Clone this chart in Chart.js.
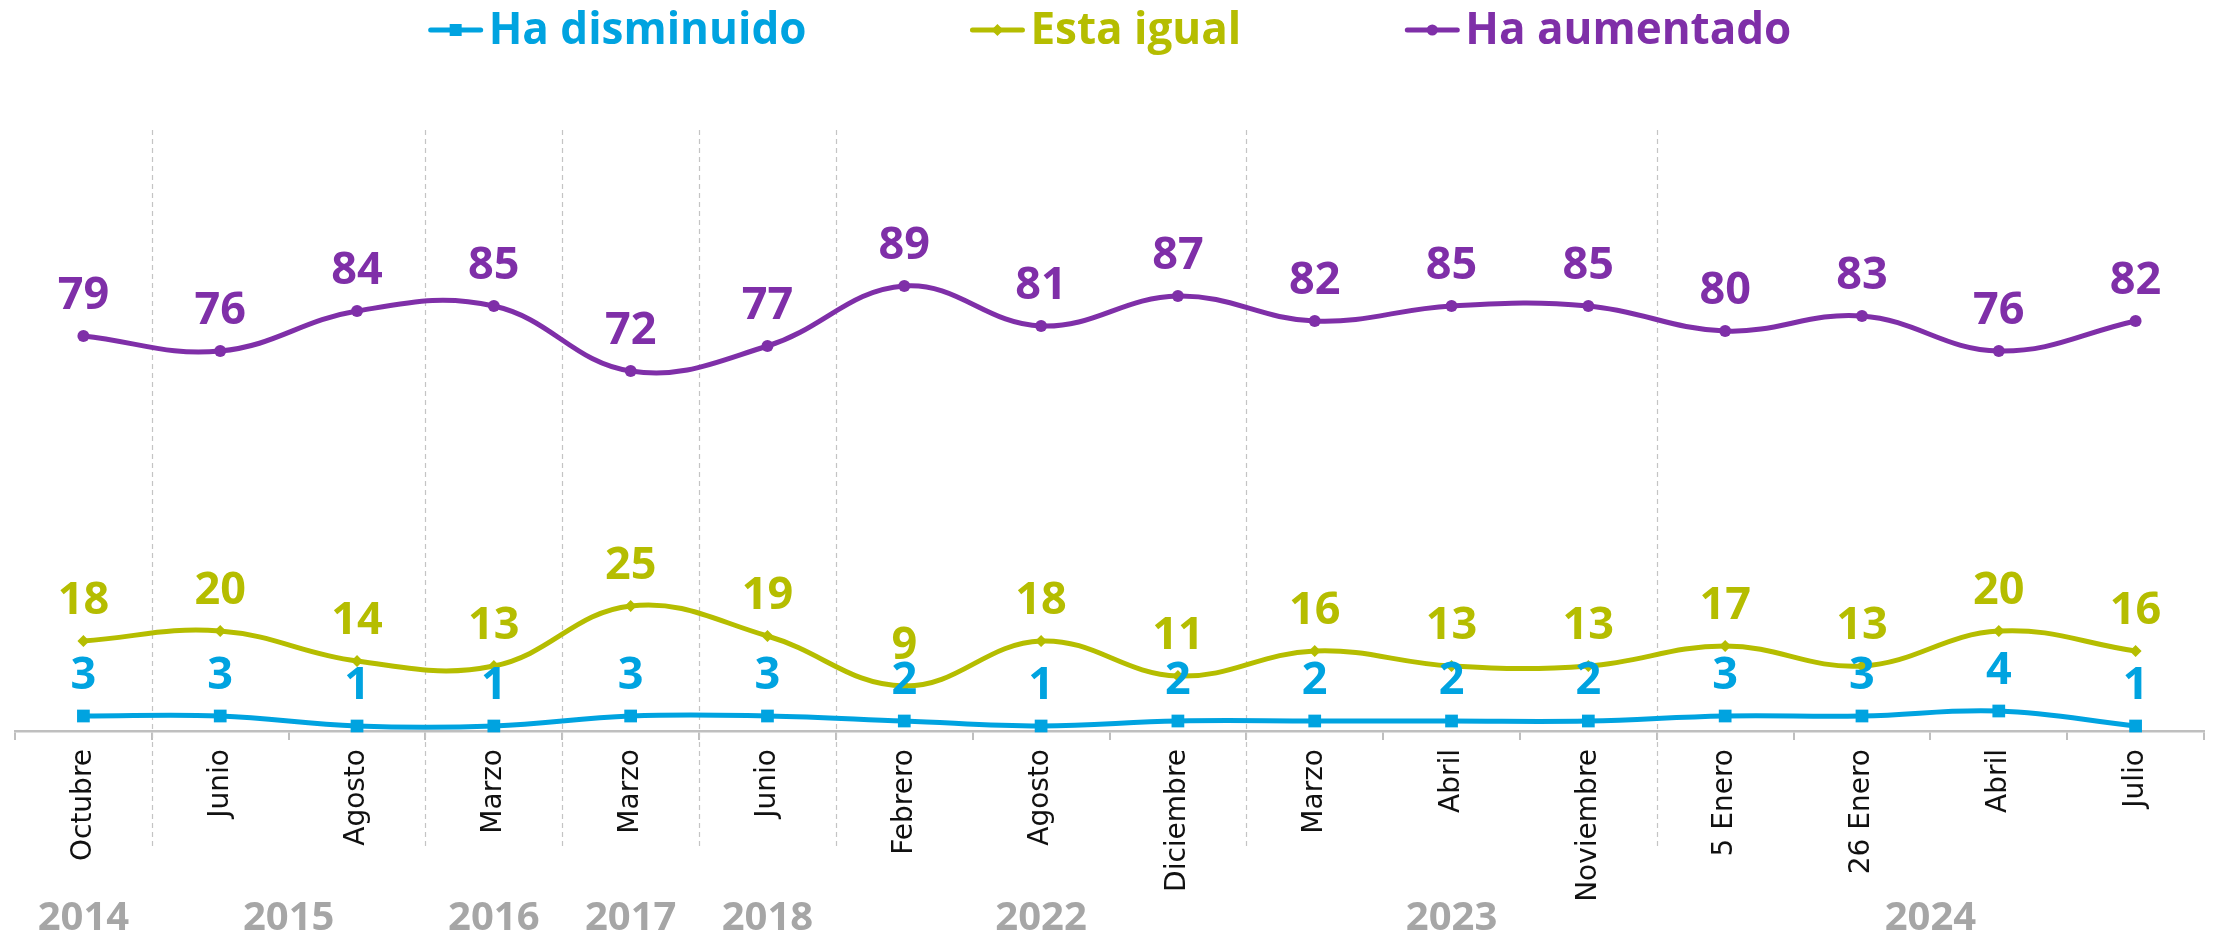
<!DOCTYPE html>
<html>
<head>
<meta charset="utf-8">
<script src="https://cdn.jsdelivr.net/npm/chart.js@4.4.0/dist/chart.umd.min.js"></script>
<style>
  html, body { margin: 0; padding: 0; background: #ffffff; }
  #wrap { width: 2213px; height: 936px; position: relative; }
</style>
</head>
<body>
<div id="wrap"><canvas id="c" width="2213" height="936"></canvas></div>
<script>
// ---- Data ----
const categories = ['Octubre','Junio','Agosto','Marzo','Marzo','Junio','Febrero','Agosto','Diciembre','Marzo','Abril','Noviembre','5 Enero','26 Enero','Abril','Julio'];
const haDisminuido = [3,3,1,1,3,3,2,1,2,2,2,2,3,3,4,1];
const estaIgual    = [18,20,14,13,25,19,9,18,11,16,13,13,17,13,20,16];
const haAumentado  = [79,76,84,85,72,77,89,81,87,82,85,85,80,83,76,82];
const years      = ['2014','2015','2016','2017','2018','2022','2023','2024'];
const yearStart  = [0,1,3,4,5,6,9,12];
const yearCount  = [1,2,1,1,1,3,3,4];
const seriesNames = ['Ha disminuido','Esta igual','Ha aumentado'];

const BLUE = '#00A3E0', GREEN = '#B5BD00', PURPLE = '#7F2FA8';
const colors = [BLUE, GREEN, PURPLE];
const pointStyles = ['rect','rectRot','circle'];
const pointRadii = [9, 6, 6];

// ---- Plugins ----
const separators = {
  id: 'separators',
  beforeDatasetsDraw(chart) {
    const xs = chart.scales.x, ctx = chart.ctx;
    ctx.save();
    ctx.strokeStyle = '#c4c4c4';
    ctx.lineWidth = 1.2;
    ctx.setLineDash([5, 4]);
    yearStart.slice(1).forEach(i => {
      const x = Math.round((xs.getPixelForValue(i - 1) + xs.getPixelForValue(i)) / 2) + 0.5;
      ctx.beginPath();
      ctx.moveTo(x, 130);
      ctx.lineTo(x, 848);
      ctx.stroke();
    });
    ctx.restore();
  }
};

const dataLabels = {
  id: 'dataLabels',
  afterDatasetsDraw(chart) {
    const ctx = chart.ctx;
    ctx.save();
    ctx.font = 'bold 45px "Open Sans", sans-serif';
    ctx.textAlign = 'center';
    ctx.textBaseline = 'middle';
    chart.data.datasets.forEach((ds, di) => {
      const meta = chart.getDatasetMeta(di);
      ctx.fillStyle = ds.borderColor;
      meta.data.forEach((pt, i) => {
        ctx.fillText(String(ds.data[i]), pt.x, pt.y - 40);
      });
    });
    ctx.restore();
  }
};

const yearLabels = {
  id: 'yearLabels',
  afterDraw(chart) {
    const xs = chart.scales.x, ctx = chart.ctx;
    ctx.save();
    ctx.font = 'bold 40px "Open Sans", sans-serif';
    ctx.fillStyle = '#a6a6a6';
    ctx.textAlign = 'center';
    ctx.textBaseline = 'middle';
    years.forEach((y, k) => {
      const a = xs.getPixelForValue(yearStart[k]);
      const b = xs.getPixelForValue(yearStart[k] + yearCount[k] - 1);
      ctx.fillText(y, (a + b) / 2, 919);
    });
    ctx.restore();
  }
};

function drawMarker(ctx, style, x, y, r, color) {
  ctx.fillStyle = color;
  ctx.beginPath();
  if (style === 'rect') {
    ctx.rect(x - r, y - r, 2 * r, 2 * r);
  } else if (style === 'rectRot') {
    ctx.moveTo(x, y - r); ctx.lineTo(x + r, y); ctx.lineTo(x, y + r); ctx.lineTo(x - r, y); ctx.closePath();
  } else {
    ctx.arc(x, y, r, 0, Math.PI * 2);
  }
  ctx.fill();
}

const customLegend = {
  id: 'customLegend',
  afterDraw(chart) {
    const ctx = chart.ctx;
    ctx.save();
    ctx.font = 'bold 44px "Open Sans", sans-serif';
    ctx.textBaseline = 'middle';
    const lineW = 54, gapText = 6, gapItem = 164;
    const widths = seriesNames.map(n => ctx.measureText(n).width);
    const total = widths.reduce((s, w) => s + lineW + gapText + w, 0) + gapItem * (seriesNames.length - 1);
    let x = 1110 - total / 2;
    const y = 30;
    seriesNames.forEach((n, i) => {
      ctx.strokeStyle = colors[i];
      ctx.lineWidth = 5;
      ctx.lineCap = 'round';
      ctx.beginPath();
      ctx.moveTo(x + 2, y); ctx.lineTo(x + lineW - 2, y);
      ctx.stroke();
      drawMarker(ctx, pointStyles[i], x + lineW / 2, y, i === 0 ? 6 : (i === 1 ? 6 : 5.5), colors[i]);
      ctx.fillStyle = colors[i];
      ctx.textAlign = 'left';
      ctx.fillText(n, x + lineW + gapText, y + 1);
      x += lineW + gapText + widths[i] + gapItem;
    });
    ctx.restore();
  }
};

// ---- Chart ----
const seriesData = [haDisminuido, estaIgual, haAumentado];
const datasets = seriesData.map((d, i) => ({
  label: seriesNames[i],
  data: d,
  borderColor: colors[i],
  backgroundColor: colors[i],
  borderWidth: 5,
  tension: 0.4,
  pointStyle: pointStyles[i],
  pointRadius: pointRadii[i],
  pointHoverRadius: pointRadii[i],
  pointBorderWidth: 0,
  fill: false,
  clip: false
}));

new Chart(document.getElementById('c'), {
  type: 'line',
  data: { labels: categories, datasets },
  options: {
    responsive: false,
    animation: false,
    events: [],
    layout: { padding: { top: 131, left: 15, right: 5, bottom: 0 } },
    plugins: { legend: { display: false }, tooltip: { enabled: false } },
    scales: {
      x: {
        type: 'category',
        offset: true,
        grid: {
          offset: true,
          drawOnChartArea: false,
          drawTicks: true,
          tickLength: 9,
          color: '#bfbfbf',
          lineWidth: 2
        },
        border: { display: true, color: '#bfbfbf', width: 2.5 },
        ticks: {
          minRotation: 90,
          maxRotation: 90,
          autoSkip: false,
          padding: 9,
          color: '#111111',
          font: { family: '"DejaVu Sans", sans-serif', size: 28 }
        },
        afterFit(scale) { scale.height = 205; }
      },
      y: {
        display: false,
        min: 0,
        max: 120
      }
    }
  },
  plugins: [separators, dataLabels, yearLabels, customLegend]
});
</script>
</body>
</html>
